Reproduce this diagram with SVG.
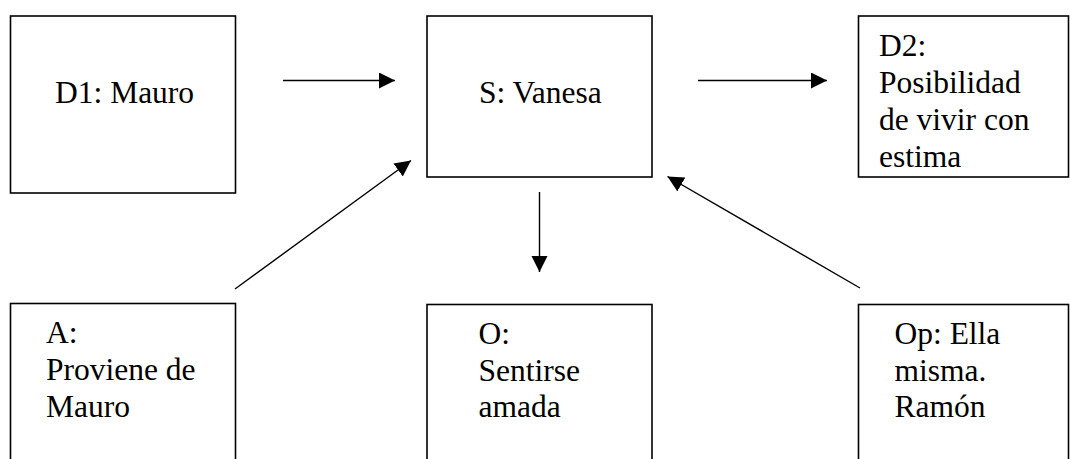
<svg xmlns="http://www.w3.org/2000/svg" width="1070" height="459" viewBox="0 0 1070 459">
<style>
.box{fill:#fff;stroke:#000;stroke-width:1.6}
.t{font-family:"Liberation Serif","Times New Roman",serif;font-size:31.5px;fill:#000}
.c{stroke:#000;stroke-width:1.4;fill:none;marker-end:url(#ah)}
</style>
<defs>
<marker id="ah" markerUnits="userSpaceOnUse" markerWidth="18" markerHeight="18" refX="16" refY="8" orient="auto">
<path d="M0,0 L16,8 L0,16 z" fill="#000"/>
</marker>
</defs>
<rect width="1070" height="459" fill="#fff"/>
<g id="connectors">
<line class="c" x1="283" y1="80.5" x2="395" y2="80.5"/>
<line class="c" x1="698" y1="80.5" x2="827" y2="80.5"/>
<line class="c" x1="539.5" y1="192" x2="539.5" y2="272"/>
<line class="c" x1="235" y1="289" x2="411" y2="160.5"/>
<line class="c" x1="860" y1="288" x2="667.5" y2="176.5"/>
</g>
<g id="D1">
<rect class="box" x="10.5" y="16" width="225" height="177"/>
<text class="t" x="55" y="103.3">D1: Mauro</text>
</g>
<g id="S">
<rect class="box" x="427" y="16" width="225" height="161"/>
<text class="t" x="479" y="103.3">S: Vanesa</text>
</g>
<g id="D2">
<rect class="box" x="858.5" y="16" width="210" height="161"/>
<text class="t" x="879" y="56">D2:</text>
<text class="t" x="879" y="92.7">Posibilidad</text>
<text class="t" x="879" y="129.5">de vivir con</text>
<text class="t" x="879" y="166.5">estima</text>
</g>
<g id="A">
<rect class="box" x="10.5" y="303.5" width="225" height="170"/>
<text class="t" x="46" y="343.3">A:</text>
<text class="t" x="46" y="380">Proviene de</text>
<text class="t" x="46" y="416.7">Mauro</text>
</g>
<g id="O">
<rect class="box" x="427" y="304.5" width="225" height="170"/>
<text class="t" x="478.5" y="344">O:</text>
<text class="t" x="478.5" y="380.7">Sentirse</text>
<text class="t" x="478.5" y="417.3">amada</text>
</g>
<g id="Op">
<rect class="box" x="858.5" y="304.5" width="210" height="170"/>
<text class="t" x="894.5" y="344">Op: Ella</text>
<text class="t" x="894.5" y="380.7">misma.</text>
<text class="t" x="894.5" y="417.3">Ramón</text>
</g>
</svg>
